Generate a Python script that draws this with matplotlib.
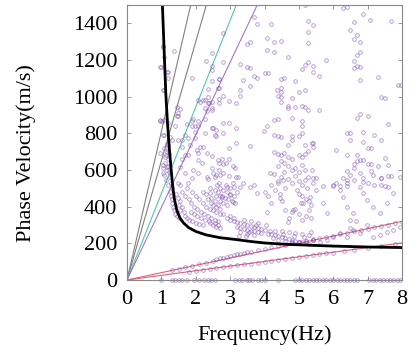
import numpy as np
import matplotlib
matplotlib.use("Agg")
import matplotlib.pyplot as plt

plt.rcParams['font.family'] = ['Liberation Serif', 'DejaVu Serif']

# slopes (m/s per Hz) of the reference lines through the origin
grayLines   = [810, 650]
tealLine    = 472
purpleLine  = 396
redLines    = [40, 25.3]

# black dispersion curve
curveFreq = [1.03, 1.08, 1.13, 1.18, 1.23, 1.28, 1.33, 1.38, 1.45, 1.55, 1.65, 1.8,
             2.0, 2.3, 2.7, 3.2, 3.6, 4.0, 4.6, 5.4, 6.0, 7.0, 8.0]
curveVel  = [1500, 1250, 1010, 850, 720, 610, 510, 440, 380, 335, 310, 285,
             265, 246, 231, 220, 210, 202, 195, 189, 185, 180, 177]

# scattered picks (frequency, velocity)
upperPicks = [
    (1.37, 1250), (1.06, 1277), (1.08, 1218), (0.98, 1160), (1.18, 1133), (1.18, 1100),
    (1.08, 1037), (1.88, 1100), (2.48, 1240), (2.29, 1195), (2.48, 1170), (2.48, 1145),
    (2.48, 1085), (2.67, 1096), (2.36, 1040), (2.65, 1050),
    (2.78, 1350), (2.78, 1188), (2.69, 1096), (2.69, 1049), (3.68, 1433), (3.79, 1395),
    (4.20, 1395), (4.08, 1320), (4.29, 1297), (4.49, 1306), (3.49, 1286), (3.58, 1297),
    (4.08, 1255), (4.29, 1246), (4.68, 1218), (3.28, 1177), (3.49, 1164), (3.58, 1158),
    (3.68, 1115), (3.79, 1100), (3.38, 1093), (4.00, 1128), (4.10, 1128), (4.49, 1096),
    (4.58, 1104), (4.89, 1087), (5.09, 1151), (5.18, 1173), (5.28, 1191), (5.18, 1500),
    (5.28, 1415), (5.28, 1355), (5.28, 1291), (3.28, 1037), (3.58, 1058), (4.37, 1037),
    (4.49, 1046), (4.49, 1027), (4.99, 1027), (5.18, 1037),
    (6.29, 1482), (6.39, 1487), (6.88, 1449), (6.59, 1406), (7.07, 1418), (7.69, 1413),
    (5.40, 1389), (6.49, 1362), (6.69, 1336), (6.59, 1316), (6.78, 1297), (6.78, 1246),
    (6.69, 1229), (6.59, 1195), (5.78, 1200), (5.40, 1170), (5.40, 1133), (5.59, 1113),
    (6.69, 1167), (6.78, 1164), (6.59, 1158), (6.78, 1093), (7.29, 1107), (7.89, 1066),
    (7.98, 1066),
]

midPicks = [
    (0.96, 866), (1.03, 866), (1.08, 875), (1.08, 789), (1.20, 856), (1.44, 942),
    (1.54, 933), (1.49, 893), (1.40, 838), (1.32, 765), (1.49, 765), (1.69, 793),
    (1.74, 852), (1.69, 684), (1.83, 738), (1.88, 866), (1.98, 838), (1.98, 775),
    (2.03, 711), (2.27, 938), (2.32, 920), (2.38, 966), (2.48, 971), (2.48, 938),
    (2.48, 829), (2.58, 820), (2.58, 787), (2.27, 802), (2.07, 866), (2.06, 838),
    (2.06, 656), (2.17, 638), (2.32, 693), (2.48, 675), (2.48, 611), (2.58, 574),
    (2.36, 551), (2.67, 529), (1.88, 556), (1.78, 529), (1.69, 584), (1.54, 520),
    (1.49, 529), (1.08, 720), (1.15, 700), (1.12, 680), (1.18, 660), (1.10, 640),
    (1.20, 620), (1.15, 600), (1.22, 590), (1.08, 575), (1.25, 560), (1.12, 545),
    (1.28, 530), (1.18, 520), (1.05, 610), (1.30, 500), (1.15, 740), (1.22, 690),
    (1.06, 1273), (0.96, 1160), (1.15, 1136), (1.06, 1037), (1.44, 895), (1.49, 913),
    (0.96, 873), (1.06, 791), (1.25, 778), (1.20, 736), (1.20, 709), (0.96, 691),
    (1.10, 673), (1.06, 627), (1.15, 615), (1.06, 582), (1.59, 764), (1.59, 727),
    (1.78, 773), (1.88, 838), (1.93, 878), (2.07, 982), (2.12, 973), (2.22, 982),
    (2.36, 1000), (1.98, 809), (2.07, 691), (2.12, 727), (1.93, 600), (2.07, 582),
    (1.54, 618), (1.59, 658), (1.78, 682),
    (2.27, 982), (2.36, 964), (2.46, 927), (2.27, 880), (2.51, 827), (2.56, 791),
    (2.22, 727), (2.65, 655), (2.51, 582), (2.56, 564),
    (2.78, 1002), (2.69, 987), (2.69, 966), (2.98, 975), (3.18, 966), (3.28, 1002),
    (4.39, 1002), (4.49, 998), (4.49, 969), (4.80, 993), (4.68, 951), (4.68, 938),
    (4.89, 944), (5.09, 948), (5.18, 944), (5.28, 929), (4.80, 884), (5.09, 866),
    (5.09, 842), (2.79, 856), (2.98, 856), (3.18, 829), (2.79, 802), (4.08, 838),
    (4.29, 875), (4.39, 878), (3.98, 811), (4.29, 793), (4.39, 784), (4.49, 780),
    (4.80, 787), (4.99, 787), (5.09, 802), (4.80, 765), (4.68, 738), (5.18, 738),
    (5.38, 747), (3.58, 729), (3.18, 747), (2.98, 720),
    (4.29, 700), (4.39, 690), (4.49, 680), (4.58, 695), (4.68, 670), (4.80, 660),
    (4.99, 680), (5.09, 670), (5.18, 690), (5.28, 705), (4.49, 650), (4.58, 640),
    (4.68, 620), (4.80, 600), (4.89, 610), (4.99, 590), (5.09, 630), (5.18, 600),
    (4.39, 620), (4.29, 580), (4.49, 560), (4.68, 550), (4.80, 530), (4.99, 540),
    (5.09, 520), (5.28, 560), (4.58, 590), (4.89, 570), (5.18, 545), (5.38, 600),
    (4.39, 540), (4.20, 520),
    (2.69, 640), (2.78, 635), (2.88, 640), (2.98, 660), (3.08, 620), (2.69, 600),
    (2.78, 585), (2.98, 570), (3.18, 560), (3.38, 530), (3.28, 510), (2.88, 520),
    (3.58, 505), (3.68, 520), (3.15, 610), (2.75, 660),
    (7.38, 998), (7.50, 993), (5.59, 929), (6.78, 907), (6.69, 882), (7.00, 896),
    (7.59, 851), (6.39, 802), (6.49, 800), (6.49, 765), (6.88, 806), (7.19, 793),
    (7.38, 765), (6.88, 753), (5.40, 747), (5.40, 725), (6.08, 711), (7.00, 720),
    (7.09, 720), (6.69, 684), (6.39, 684), (6.78, 656), (6.88, 656), (7.00, 635),
    (7.09, 635), (6.59, 635), (6.59, 611), (6.69, 647), (7.50, 665), (7.59, 629),
    (7.29, 620), (7.09, 593), (6.39, 593), (6.49, 574), (6.78, 584), (7.59, 569),
    (7.69, 569), (7.38, 556), (6.59, 544), (6.88, 556), (6.88, 533), (7.00, 529),
    (6.29, 556), (6.39, 544), (6.39, 529), (6.39, 511), (6.08, 529), (5.99, 515),
    (6.19, 515), (5.40, 556), (5.49, 556), (5.40, 529), (5.69, 511), (7.19, 520),
    (7.38, 520), (7.50, 511), (7.59, 506),
]

lowerPicks = [
    (1.25, 480), (1.28, 460), (1.32, 440), (1.30, 420), (1.35, 400), (1.38, 380),
    (1.40, 360), (1.45, 350), (1.50, 340), (1.42, 470), (1.48, 450), (1.55, 430),
    (1.50, 410), (1.60, 400), (1.55, 380), (1.65, 370), (1.70, 350), (1.75, 340),
    (1.80, 330), (1.90, 320), (2.00, 310), (2.10, 305), (2.20, 300), (1.60, 480),
    (1.70, 460), (1.80, 440), (1.85, 420), (1.95, 400), (2.05, 390), (2.15, 370),
    (2.25, 360), (2.35, 350), (2.45, 340), (2.55, 330), (2.65, 320), (1.75, 500),
    (1.90, 480), (2.00, 460), (2.10, 440), (2.20, 420), (2.30, 400), (2.40, 390),
    (2.50, 380), (2.60, 370), (2.70, 360), (2.20, 480), (2.30, 470), (2.45, 450),
    (2.55, 430), (2.65, 410), (2.40, 500), (2.55, 490), (2.65, 480), (2.70, 460),
    (2.58, 460), (2.28, 330), (2.38, 320), (2.15, 340), (2.05, 350), (1.95, 360),
    (1.85, 370), (2.35, 440), (2.45, 420), (2.60, 400), (2.70, 390), (2.50, 410),
    (2.50, 300), (2.60, 290), (2.70, 285), (2.55, 310), (2.65, 300), (2.40, 310),
    (2.70, 500), (2.80, 490), (2.90, 480), (3.00, 470), (3.10, 460), (2.75, 460),
    (2.85, 450), (2.95, 440), (3.05, 430), (3.15, 420), (2.70, 430), (2.80, 420),
    (2.90, 410), (3.20, 480), (3.00, 500), (3.10, 505),
    (3.00, 330), (3.10, 320), (3.20, 315), (3.30, 310), (3.40, 305), (3.50, 300),
    (3.60, 295), (3.70, 290), (3.80, 285), (3.90, 280), (4.00, 275), (3.20, 290),
    (3.30, 285), (3.40, 280), (3.50, 275), (3.60, 270), (3.70, 265), (3.80, 260),
    (3.90, 255), (4.10, 250), (3.30, 260), (3.50, 250), (3.70, 245), (3.40, 330),
    (3.60, 320), (3.80, 310), (2.90, 340), (3.00, 350), (2.80, 360), (3.10, 340),
    (3.45, 240), (3.25, 240), (3.55, 260), (3.75, 300), (4.05, 300), (4.15, 270),
    (4.00, 480), (4.10, 460), (4.30, 490), (4.45, 470), (4.50, 430), (4.60, 500),
    (4.20, 420), (4.95, 490), (5.00, 470), (5.10, 460), (5.20, 440), (5.30, 430),
    (5.35, 410), (5.25, 500), (5.05, 420), (4.60, 380), (4.80, 370), (5.00, 360),
    (5.20, 350), (5.35, 340), (4.70, 340), (5.10, 330), (5.30, 380), (4.90, 390),
    (4.20, 250), (4.30, 245), (4.40, 240), (4.50, 235), (4.60, 230), (4.70, 225),
    (4.80, 220), (4.90, 215), (5.00, 210), (5.10, 205), (5.20, 200), (5.30, 198),
    (4.30, 270), (4.50, 265), (4.70, 260), (4.90, 255), (5.10, 250), (5.30, 245),
    (4.40, 220), (4.60, 215), (4.80, 210), (5.00, 205), (5.20, 215), (5.40, 225),
    (4.25, 230), (4.55, 250), (4.85, 240), (5.15, 235), (5.35, 260),
    (2.32, 564), (2.70, 573), (2.61, 518), (2.90, 509), (3.09, 527), (2.41, 473),
    (2.75, 455), (2.99, 464), (3.09, 427), (3.24, 564), (3.77, 473), (4.06, 373),
    (4.16, 582), (4.40, 527), (4.55, 545), (4.45, 446), (4.83, 382), (4.69, 318),
    (5.13, 418), (5.32, 455), (5.51, 491), (5.71, 418), (5.81, 364), (6.00, 518),
    (6.19, 491), (6.29, 455), (6.39, 400), (6.58, 364), (6.48, 327), (6.67, 320),
    (6.77, 509), (6.87, 473), (6.97, 436), (7.16, 400), (7.35, 364), (7.55, 418),
    (7.74, 473), (7.94, 564), (7.40, 555), (7.16, 573), (6.58, 273), (6.77, 255),
    (7.16, 236), (7.35, 245), (7.55, 264), (6.39, 236), (6.19, 255), (6.00, 236),
    (5.81, 218), (5.61, 210), (5.42, 218), (7.94, 290), (7.74, 272), (6.97, 300),
    (6.48, 282),
]

# two linear trends near the red lines
bandFreqA = [1.3, 1.5, 1.7, 1.9, 2.1, 2.3, 2.5, 2.6, 2.7, 2.8, 2.9, 3.0, 3.1, 3.2, 3.3,
             3.4, 3.5, 3.6, 3.8, 4.0, 4.2, 4.4, 4.6, 4.8, 5.0, 5.2, 5.4, 5.6, 5.8, 6.0,
             6.2, 6.4, 6.6, 6.8, 7.0, 7.2, 7.4, 7.6, 7.8, 8.0]
bandVelA  = [55, 62, 70, 78, 88, 95, 105, 112, 118, 120, 125, 130, 135, 140, 142,
             148, 152, 155, 165, 170, 178, 185, 192, 200, 205, 212, 220, 228, 235, 242,
             250, 258, 265, 272, 280, 288, 295, 302, 310, 318]
bandFreqB = [1.8, 2.0, 2.2, 2.4, 2.6, 2.8, 3.0, 3.2, 3.4, 3.6, 3.8, 4.0, 4.2, 4.4, 4.6,
             4.8, 5.0, 5.2, 5.4, 5.6, 5.8, 6.0, 6.3, 6.6, 7.0, 7.4, 7.8]
bandVelB  = [45, 50, 55, 60, 65, 70, 76, 80, 85, 90, 95, 100, 105, 110, 115,
             120, 125, 130, 135, 140, 145, 150, 158, 165, 175, 185, 195]

# picks sitting on zero velocity
zeroFreq = [1.0, 1.3, 1.4, 1.5, 1.6, 1.75, 1.95, 2.1, 2.25, 2.35, 2.45, 2.55, 3.15,
            3.25, 3.35, 3.5, 3.55, 3.65, 3.8, 3.9, 4.0, 4.4, 4.9, 5.0, 5.1, 5.2, 5.3,
            5.4, 5.5, 5.6, 5.7, 5.8, 5.9, 6.0, 6.1, 6.2, 6.3, 6.4, 6.5, 6.6, 6.7, 7.05,
            7.15, 7.25, 7.35, 7.45, 7.55, 7.65, 7.75, 7.85, 7.95]

fig = plt.figure(figsize=(4.17, 3.53), dpi=100)
ax = fig.add_axes([0.3046, 0.2068, 0.6594, 0.779])

fx = np.array([0, 8])
for s in grayLines:
    ax.plot(fx, s * fx, color='#808080', lw=0.8)
ax.plot(fx, tealLine * fx, color='#50c8a8', lw=0.8)
ax.plot(fx, purpleLine * fx, color='#a678c8', lw=0.8)
for s in redLines:
    ax.plot(fx, s * fx, color='#e0607a', lw=0.8)

pick = dict(ls='none', marker='o', ms=2.6, mfc='none', mec='#7c4cb0',
            mew=0.6, alpha=0.6)
for group in (upperPicks, midPicks, lowerPicks):
    f, v = zip(*group)
    ax.plot(f, v, **pick)
ax.plot(bandFreqA, bandVelA, **pick)
ax.plot(bandFreqB, bandVelB, **pick)
ax.plot(zeroFreq, np.zeros(len(zeroFreq)), clip_on=False, **pick)

ax.plot(curveFreq, curveVel, color='black', lw=2.0)

ax.set_xlim(0, 8)
ax.set_ylim(0, 1500)
ax.set_xticks(range(0, 9))
ax.set_yticks(range(0, 1500, 200))
ax.tick_params(direction='in', top=True, right=True, length=3, width=0.6,
               color='#888888', labelsize=16, pad=7)
for sp in ax.spines.values():
    sp.set_color('#888888')
    sp.set_linewidth(0.8)

ax.set_xlabel('Frequency(Hz)', fontsize=16, labelpad=12)
ax.set_ylabel('Phase Velocity(m/s)', fontsize=16)
ax.yaxis.set_label_coords(-0.33, 0.46)

fig.savefig('out.png', dpi=100)
